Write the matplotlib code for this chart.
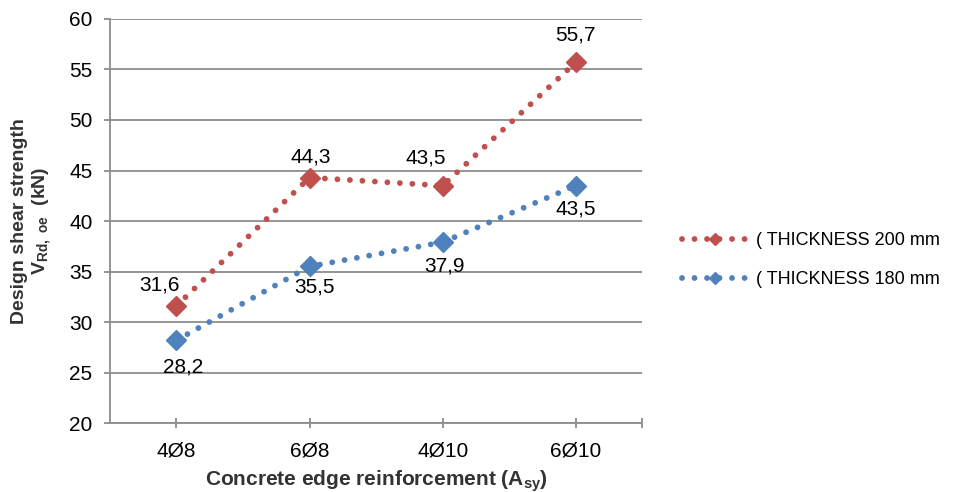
import matplotlib
matplotlib.use("Agg")
import matplotlib.pyplot as plt
from matplotlib.ticker import FixedLocator

# Data
categories = ["4Ø8", "6Ø8", "4Ø10", "6Ø10"]
thickness_200 = [31.6, 44.3, 43.5, 55.7]
thickness_180 = [28.2, 35.5, 37.9, 43.5]
series_names = ["( THICKNESS 200 mm", "( THICKNESS 180 mm"]
y_ticks = [20, 25, 30, 35, 40, 45, 50, 55, 60]

# Label offsets (points) relative to each marker
offsets_200 = [(-12, 15), (1, 14.5), (-12, 20), (0, 19.5)]
offsets_180 = [(5, -19.5), (3.5, -15), (1.5, -17), (0, -16.5)]

plt.rcParams["font.family"] = ["Liberation Sans", "DejaVu Sans"]
plt.rcParams["mathtext.fontset"] = "custom"
plt.rcParams["mathtext.rm"] = "Liberation Sans"
plt.rcParams["mathtext.bf"] = "Liberation Sans:bold"
plt.rcParams["lines.scale_dashes"] = False

RED = "#C0504D"
BLUE = "#4F81BD"
GRID = "#8C8C8C"
LABEL = "#333333"

fig = plt.figure(figsize=(9.56, 4.92), dpi=100)
ax = fig.add_axes([0.115, 0.1402, 0.5568, 0.8212])

x = list(range(len(categories)))
dot_style = (0, (0.01, 9.0))

for vals, col, name in [(thickness_200, RED, series_names[0]),
                        (thickness_180, BLUE, series_names[1])]:
    ax.plot(x, vals, color=col, lw=4.2, linestyle=dot_style,
            dash_capstyle="round", marker="D", markersize=10.2,
            markerfacecolor=col, markeredgecolor=col, label=name, zorder=3)

for vals, offs in [(thickness_200, offsets_200), (thickness_180, offsets_180)]:
    for xi, v, (dx, dy) in zip(x, vals, offs):
        ax.annotate(f"{v:.1f}".replace(".", ","), (xi, v), xytext=(dx, dy),
                    textcoords="offset points", ha="center", va="center",
                    fontsize=15, color="black", zorder=4)

ax.set_xlim(-0.5, 3.5)
ax.set_ylim(20, 60)
ax.set_yticks(y_ticks)
ax.set_xticks(x)
ax.set_xticklabels(categories)
ax.xaxis.set_minor_locator(FixedLocator([3.5]))

ax.grid(axis="y", color=GRID, lw=1.3, zorder=0)
ax.set_axisbelow(True)
for s in ["top", "right"]:
    ax.spines[s].set_visible(False)
for s in ["left", "bottom"]:
    ax.spines[s].set_color(GRID)
    ax.spines[s].set_linewidth(1.3)

ax.tick_params(axis="y", direction="out", length=4.5, width=1.3, color=GRID,
               labelsize=15, pad=8)
ax.tick_params(axis="x", which="both", direction="inout", length=7, width=1.3,
               color=GRID, labelsize=15, pad=10)

ax.set_xlabel(r"Concrete edge reinforcement (A$_{\mathbf{sy}}$)", fontsize=15,
              fontweight="bold", color=LABEL, labelpad=5)
ax.set_ylabel("Design shear strength\n" + r"$\mathbf{V_{Rd,\ oe}}$  (kN)",
              fontsize=14, fontweight="bold", color=LABEL, labelpad=12,
              linespacing=1.1)

leg = fig.legend(loc="center left", bbox_to_anchor=(0.713, 0.471), frameon=False,
                 fontsize=13, handlelength=3.7, handletextpad=0.4,
                 labelspacing=1.2, markerscale=0.6, borderpad=0,
                 borderaxespad=0)

fig.savefig("out.png", dpi=100)
